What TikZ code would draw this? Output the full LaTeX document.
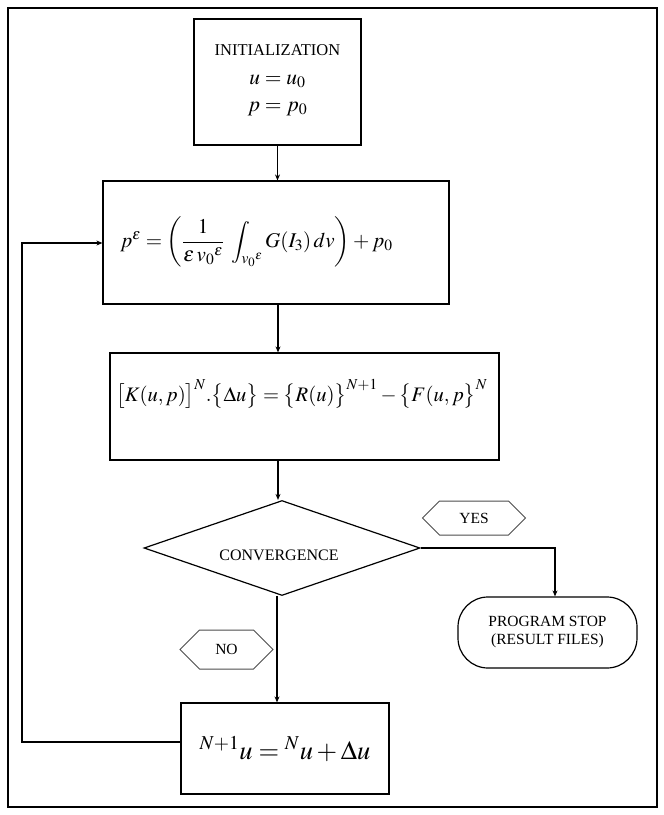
\documentclass[tikz,border=0pt]{standalone}
\usepackage{amsmath}
\usepackage{mathptmx}
\usepackage{fontspec}
\setmainfont{Liberation Serif}
\usetikzlibrary{arrows.meta,shapes.geometric,shapes.symbols}
\begin{document}
\begin{tikzpicture}[x=1pt,y=-1pt,
  box/.style={draw,line width=1.2pt,inner sep=0pt},
  lbl/.style={font=\fontsize{15.5}{18}\selectfont,inner sep=0pt,align=center},
  hexa/.style={draw=black!70,line width=1pt,signal,signal to=east and west,
    signal pointer angle=90,inner sep=0pt,font=\fontsize{15.5}{18}\selectfont},
  arr/.style={line width=1.2pt,-{Stealth[length=6pt,width=5pt]}}]
\useasboundingbox (0,0) rectangle (664,815);
\draw[line width=1.6pt] (8,8) rectangle (657,807);

% nodes
\node[box,minimum width=167,minimum height=126] (init) at (277.5,82) {};
\node[lbl] (inittxt) at (277.5,80) {\fontsize{16.5}{19}\selectfont INITIALIZATION\\[11pt]
  \fontsize{21.5}{24}\selectfont $u=u_0$\\[9pt] \fontsize{21.5}{24}\selectfont $p=p_0$};

\node[box,minimum width=346,minimum height=123] (pe) at (276,242.5) {};
\node[lbl] (petxt) at (256.5,242) {\fontsize{21}{25}\selectfont
  $p^{\varepsilon}=\left(\dfrac{1}{\varepsilon\, {v_0}^{\varepsilon}}\;\displaystyle\int_{{v_0}^{\varepsilon}} G(I_3)\,dv\right)+p_0$};

\node[box,minimum width=389,minimum height=107] (kup) at (304.5,406.5) {};
\node[lbl,anchor=west] (kuptxt) at (116,394) {\fontsize{20.6}{24}\selectfont
  $\bigl[K(u,p)\bigr]^{N}.\bigl\{\Delta u\bigr\}=\bigl\{R(u)\bigr\}^{N+1}-\bigl\{F(u,p\bigr\}^{N}$};

\node[box,diamond,minimum width=276,minimum height=95] (conv) at (282,548) {};
\node[lbl] (convtxt) at (279,555) {\fontsize{16}{18}\selectfont CONVERGENCE};

\node[hexa,minimum width=103,minimum height=34] (yes) at (474,518) {YES};

\node[draw,line width=1.2pt,rounded corners=30pt,minimum width=179,minimum height=71,
  lbl] (stop) at (547.5,632.5) {PROGRAM STOP\\(RESULT FILES)};

\node[hexa,minimum width=93,minimum height=39] (no) at (226.5,649.5) {NO};

\node[box,minimum width=208,minimum height=91] (upd) at (285,748.5) {};
\node[lbl] (updtxt) at (285,749) {\fontsize{26.5}{30}\selectfont
  ${}^{N+1}u={}^{N}u+\Delta u$};

\coordinate (ya) at (555,548);
\coordinate (fb1) at (22,742);
\coordinate (fb2) at (22,243);

% connectors
\draw[arr] (init.south) -- (init.south |- pe.north);
\draw[arr] (pe.south -| 278,0) -- (kup.north -| 278,0);
\draw[arr] (kup.south -| 278,0) -- (conv.north -| 278,0);
\draw[arr] (conv.south -| 277,0) -- (upd.north -| 277,0);
\draw[arr] (conv.east) -- (ya) -- (stop.north -| ya);
\draw[arr] (upd.west |- fb1) -- (fb1) -- (fb2) -- (pe.west |- fb2);
\end{tikzpicture}
\end{document}
